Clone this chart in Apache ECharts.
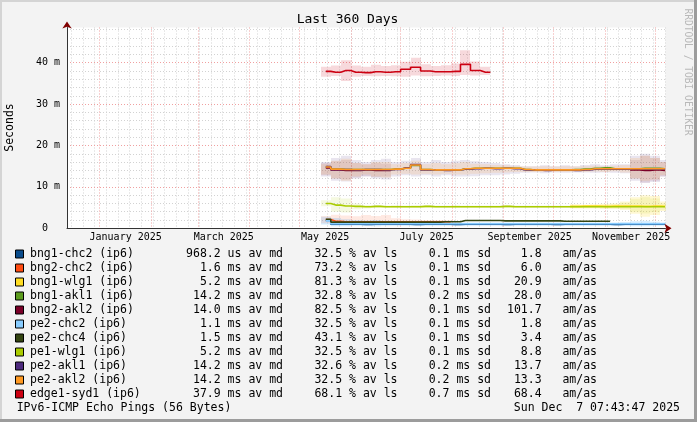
<!DOCTYPE html>
<html><head><meta charset="utf-8">
<script src="https://cdn.jsdelivr.net/npm/echarts@6/dist/echarts.min.js"></script>
<style>html,body{margin:0;padding:0;background:#f3f3f3}#c{width:697px;height:422px}</style>
</head><body><div id="c"></div>
<script>
// ---------- data ----------
const sampleDates = ['2025-05-17','2025-05-23','2025-05-29','2025-06-04','2025-06-10','2025-06-16','2025-06-22','2025-06-28','2025-07-04','2025-07-10','2025-07-16','2025-07-22','2025-07-28','2025-08-03','2025-08-09','2025-08-15','2025-08-21','2025-08-27','2025-09-02','2025-09-08','2025-09-14','2025-09-20','2025-09-26','2025-10-02','2025-10-08','2025-10-14','2025-10-20','2025-10-26','2025-11-01','2025-11-07','2025-11-13','2025-11-19','2025-11-25','2025-12-01','2025-12-07'];
const N = null;
// medians (ms)
const bng1_chc2 = [1.9,1.0,1.0,1.0,0.9,1.0,1.0,1.0,1.0,0.9,1.0,1.0,1.0,0.9,1.0,1.0,1.0,1.0,0.9,1.0,1.0,1.0,1.0,0.9,1.0,1.0,1.0,1.0,1.0,0.9,1.0,1.0,1.0,1.0,1.0];
const bng2_chc2 = [2.1,1.7,1.6,1.6,1.6,1.6,1.6,1.6,1.6,1.6,1.6,1.6,1.6,N,N,N,N,N,N,N,N,N,N,N,N,N,N,N,N,N,N,N,N,N,N];
const bng1_wlg1 = [N,N,N,N,N,N,N,N,N,N,N,N,N,N,N,N,N,N,N,N,N,N,N,N,N,5.3,5.4,5.4,5.3,5.4,5.4,5.4,5.3,5.4,5.3];
const bng1_akl1 = [14.8,14.3,14.2,14.2,14.2,14.2,14.2,14.3,14.5,15.2,14.2,14.1,14.1,14.1,14.4,14.5,14.5,14.5,14.5,14.5,14.2,14.1,14.1,14.1,14.1,14.2,14.3,14.5,14.6,14.4,14.4,14.4,14.5,14.5,14.4];
const bng2_akl2 = [14.6,14.1,14.0,14.0,14.1,14.0,14.0,N,N,N,N,N,N,N,N,N,N,N,N,N,N,N,N,N,N,N,N,N,N,N,N,14.1,14.0,14.1,14.0];
const pe2_chc2 = [1.8,1.1,1.1,1.1,1.1,1.1,1.1,1.1,1.1,1.1,1.1,1.1,1.1,1.1,1.1,1.1,1.1,1.1,1.1,1.1,1.1,1.1,1.1,1.1,1.1,1.1,1.1,1.1,1.1,1.1,1.1,1.1,1.1,1.1,1.1];
const pe2_chc4 = [2.2,1.5,1.5,1.5,1.5,1.5,1.5,1.5,1.5,1.5,1.5,1.5,1.6,1.6,1.9,1.9,1.9,1.9,1.8,1.8,1.8,1.8,1.8,1.8,1.7,1.7,1.7,1.7,1.7,N,N,N,N,N,N];
const pe1_wlg1 = [6.0,5.6,5.4,5.3,5.2,5.3,5.2,5.2,5.2,5.2,5.3,5.2,5.2,5.2,5.2,5.2,5.2,5.2,5.3,5.2,5.2,5.2,5.2,5.2,5.2,5.2,5.2,5.2,5.2,5.2,5.2,5.2,5.2,5.2,5.2];
const pe2_akl1 = [14.9,14.2,14.2,14.1,14.2,14.2,14.1,14.2,14.6,15.4,14.1,14.1,14.0,14.1,14.3,14.4,14.5,14.4,14.5,14.4,14.1,14.1,14.0,14.1,14.1,14.0,14.1,14.3,14.3,14.3,14.3,14.4,14.3,14.3,14.3];
const pe2_akl2 = [14.8,14.3,14.2,14.2,14.2,14.2,14.2,14.3,14.5,15.3,14.2,14.1,14.1,14.1,14.4,14.5,14.5,14.5,14.5,14.5,14.2,14.1,14.1,14.1,14.1,14.1,14.2,14.4,14.4,14.4,14.4,14.4,14.4,14.4,14.4];
const edge1_syd1 = [37.9,37.7,38.1,37.7,37.6,37.8,37.7,37.8,38.4,38.9,38.0,37.8,37.8,37.9,39.6,38.1,37.7,N,N,N,N,N,N,N,N,N,N,N,N,N,N,N,N,N,N];
// smoke (min / max of pings, ms)
const smoke_bng2_chc2_lo = [1.2,1.1,1.0,1.1,1.1,1.0,1.1,1.2,1.3,1.3,1.3,1.3,1.3,N,N,N,N,N,N,N,N,N,N,N,N,N,N,N,N,N,N,N,N,N,N];
const smoke_bng2_chc2_hi = [3.0,3.3,3.1,2.9,3.2,3.0,3.2,2.4,2.2,2.1,2.0,2.0,2.0,N,N,N,N,N,N,N,N,N,N,N,N,N,N,N,N,N,N,N,N,N,N];
const smoke_bng1_wlg1_lo = [N,N,N,N,N,N,N,N,N,N,N,N,N,N,N,N,N,N,N,N,N,N,N,N,N,4.8,4.8,4.8,4.7,4.7,4.5,3.5,2.8,3.2,4.2];
const smoke_bng1_wlg1_hi = [N,N,N,N,N,N,N,N,N,N,N,N,N,N,N,N,N,N,N,N,N,N,N,N,N,5.8,5.7,5.8,5.9,6.0,6.5,7.5,8.0,7.8,6.5];
const smoke_bng2_akl2_lo = [12.8,12.0,11.8,12.3,12.6,12.4,12.5,N,N,N,N,N,N,N,N,N,N,N,N,N,N,N,N,N,N,N,N,N,N,N,N,12.0,11.0,11.5,12.5];
const smoke_bng2_akl2_hi = [15.8,16.2,16.5,15.8,15.5,15.8,15.6,N,N,N,N,N,N,N,N,N,N,N,N,N,N,N,N,N,N,N,N,N,N,N,N,16.5,17.5,17.0,16.0];
const smoke_pe2_chc2_lo = [0.9,0.5,0.5,0.6,0.6,0.5,0.6,0.6,0.6,0.6,0.6,0.6,0.6,0.6,0.6,0.6,0.6,0.6,0.6,0.6,0.6,0.6,0.6,0.6,0.6,0.6,0.6,0.6,0.6,0.6,0.6,0.5,0.5,0.6,0.6];
const smoke_pe2_chc2_hi = [2.8,2.5,2.2,2.0,1.9,2.0,1.8,1.6,1.5,1.5,1.4,1.4,1.4,1.4,1.4,1.4,1.4,1.4,1.4,1.4,1.4,1.4,1.4,1.4,1.4,1.4,1.4,1.4,1.4,1.4,1.5,1.7,1.8,1.6,1.4];
const smoke_pe1_wlg1_lo = [5.3,4.0,3.8,4.6,4.8,4.9,4.9,4.9,4.9,4.9,4.9,4.9,4.9,4.9,4.9,4.9,4.9,4.9,4.9,4.9,4.9,4.9,4.9,4.9,4.9,4.9,4.9,4.9,4.8,4.8,4.6,4.0,3.6,3.9,4.5];
const smoke_pe1_wlg1_hi = [6.8,7.5,7.2,6.0,5.6,5.6,5.5,5.6,5.5,5.6,5.6,5.5,5.5,5.6,5.5,5.5,5.5,5.5,5.6,5.5,5.5,5.5,5.5,5.5,5.5,5.5,5.6,5.6,5.7,5.8,6.2,7.0,7.5,7.2,6.0];
const smoke_pe2_akl1_lo = [12.5,11.5,11.3,12.0,12.5,12.0,11.8,12.5,12.8,12.5,12.8,12.5,12.8,12.5,12.5,12.6,12.8,12.8,13.0,13.2,13.4,13.5,13.3,13.5,13.4,13.5,13.5,13.4,13.5,13.4,13.3,11.5,11.0,11.2,12.5];
const smoke_pe2_akl1_hi = [16.0,17.0,17.5,16.5,16.0,16.5,16.8,16.0,16.3,17.0,16.0,16.5,16.0,16.3,16.5,16.2,16.0,15.8,15.5,15.3,15.0,15.0,15.2,15.0,15.2,15.0,15.3,15.5,15.2,15.5,15.5,17.5,18.0,17.5,16.5];
const smoke_pe2_akl2_lo = [13.0,12.0,11.5,12.5,13.0,12.5,12.3,13.0,13.2,13.0,13.2,13.0,13.2,13.0,13.0,13.2,13.3,13.4,13.5,13.6,13.6,13.6,13.6,13.6,13.6,13.7,13.6,13.7,13.6,13.8,13.5,12.0,11.5,11.8,12.8];
const smoke_pe2_akl2_hi = [15.5,16.3,16.8,15.8,15.5,16.0,16.0,15.5,15.8,16.3,15.5,15.8,15.5,15.7,16.0,15.6,15.5,15.3,15.2,15.0,14.9,14.9,15.0,14.9,15.0,14.9,15.0,15.1,15.0,15.1,15.3,17.0,17.5,17.0,16.0];
const smoke_edge1_syd1_lo = [36.6,36.8,35.6,36.6,36.8,36.7,36.8,36.7,36.6,36.9,36.7,36.8,36.9,36.8,37.0,36.9,37.0,N,N,N,N,N,N,N,N,N,N,N,N,N,N,N,N,N,N];
const smoke_edge1_syd1_hi = [39.0,39.3,40.6,39.3,39.0,39.5,39.2,39.4,40.2,41.2,39.6,39.2,39.4,39.8,43.0,40.3,39.0,N,N,N,N,N,N,N,N,N,N,N,N,N,N,N,N,N,N];

// legend texts
const legendNames = ['bng1-chc2 (ip6)','bng2-chc2 (ip6)','bng1-wlg1 (ip6)','bng1-akl1 (ip6)','bng2-akl2 (ip6)','pe2-chc2 (ip6)','pe2-chc4 (ip6)','pe1-wlg1 (ip6)','pe2-akl1 (ip6)','pe2-akl2 (ip6)','edge1-syd1 (ip6)'];
const legendMedian = ['968.2 us','1.6 ms','5.2 ms','14.2 ms','14.0 ms','1.1 ms','1.5 ms','5.2 ms','14.2 ms','14.2 ms','37.9 ms'];
const legendLoss = ['32.5','73.2','81.3','32.8','82.5','32.5','43.1','32.5','32.6','32.5','68.1'];
const legendSd = ['0.1','0.1','0.1','0.2','0.1','0.1','0.1','0.1','0.2','0.2','0.7'];
const legendAmas = ['1.8','6.0','20.9','28.0','101.7','1.8','3.4','8.8','13.7','13.3','68.4'];

// axis tick labels
const xTickMonths = ['2025-01-01','2025-03-01','2025-05-01','2025-07-01','2025-09-01','2025-11-01'];
const xTickLabels = ['January 2025','March 2025','May 2025','July 2025','September 2025','November 2025'];
const monthLines = ['2025-01-01','2025-02-01','2025-03-01','2025-04-01','2025-05-01','2025-06-01','2025-07-01','2025-08-01','2025-09-01','2025-10-01','2025-11-01','2025-12-01'];
const yTickLabels = {0:'0  ',10:'10 m',20:'20 m',30:'30 m',40:'40 m'};

const titleText = 'Last 360 Days';
const yTitle = 'Seconds';
const footLeft = 'IPv6-ICMP Echo Pings (56 Bytes)';
const footRight = 'Sun Dec  7 07:43:47 2025';
const watermark = 'RRDTOOL / TOBI OETIKER';

// ---------- styles ----------
const colors = ['#0a4c8c','#ff4c12','#ffdd22','#5c9c1e','#7a0028','#88ccff','#334411','#aacc00','#4d2a7e','#ff9922','#cc0011'];
const medians = [bng1_chc2,bng2_chc2,bng1_wlg1,bng1_akl1,bng2_akl2,pe2_chc2,pe2_chc4,pe1_wlg1,pe2_akl1,pe2_akl2,edge1_syd1];
const smokes = [
  [smoke_pe2_chc2_lo, smoke_pe2_chc2_hi, 5, 0.35],
  [smoke_bng2_chc2_lo, smoke_bng2_chc2_hi, 1, 0.12],
  [smoke_pe1_wlg1_lo, smoke_pe1_wlg1_hi, 7, 0.12],
  [smoke_bng1_wlg1_lo, smoke_bng1_wlg1_hi, 2, 0.2],
  [smoke_bng2_akl2_lo, smoke_bng2_akl2_hi, 4, 0.1],
  [smoke_pe2_akl1_lo, smoke_pe2_akl1_hi, 8, 0.12],
  [smoke_pe2_akl2_lo, smoke_pe2_akl2_hi, 9, 0.14],
  [smoke_edge1_syd1_lo, smoke_edge1_syd1_hi, 10, 0.15]
];

const MONO = "'DejaVu Sans Mono', monospace";
const DAY = 86400000;
const ts = s => new Date(s + 'T00:00:00Z').getTime();
const tStart = Date.UTC(2024, 11, 12, 7, 43, 47);
const tEnd = Date.UTC(2025, 11, 7, 7, 43, 47);
const sampleTimes = sampleDates.map(ts);
const halfStep = 3 * DAY;
const labelTimes = xTickMonths.map(s => ts(s) + 15.6 * DAY);
const weekLines = [];
for (let t = ts('2024-12-15'); t <= tEnd; t += 7 * DAY) weekLines.push(t);

const series = [];
smokes.forEach(([lo, hi, ci, op]) => {
  series.push({
    type: 'custom', silent: true, clip: true, z: 1,
    data: sampleTimes.map((t, i) => [t, lo[i] == null ? '-' : lo[i], hi[i] == null ? '-' : hi[i]]),
    renderItem(params, api) {
      const l = api.value(1), h = api.value(2);
      if (l == null || h == null || isNaN(l) || isNaN(h)) return null;
      const t = api.value(0);
      const p1 = api.coord([t - halfStep, h]);
      const p2 = api.coord([t + halfStep, l]);
      return { type: 'rect', shape: { x: Math.round(p1[0]), y: p1[1], width: Math.round(p2[0]) - Math.round(p1[0]), height: p2[1] - p1[1] },
        style: { fill: colors[ci], opacity: op } };
    }
  });
});
medians.forEach((vals, k) => {
  series.push({
    type: 'line', name: legendNames[k], step: 'middle', symbol: 'none', showSymbol: false, silent: true,
    connectNulls: false, z: 3,
    data: sampleTimes.map((t, i) => [t, vals[i]]),
    lineStyle: { color: colors[k], width: 1.6 }, itemStyle: { color: colors[k] }
  });
});

// graphic: texts and frame
const g = [];
g.push({ type: 'rect', shape: { x: 0, y: 0, width: 697, height: 2 }, style: { fill: '#d4d4d4' }, silent: true });
g.push({ type: 'rect', shape: { x: 0, y: 0, width: 2, height: 422 }, style: { fill: '#d4d4d4' }, silent: true });
g.push({ type: 'rect', shape: { x: 694, y: 0, width: 3, height: 422 }, style: { fill: '#9c9c9c' }, silent: true });
g.push({ type: 'rect', shape: { x: 0, y: 419, width: 697, height: 3 }, style: { fill: '#9c9c9c' }, silent: true });
function txt(text, x, y, align, size, extra) {
  return Object.assign({ type: 'text', x, y, silent: true,
    style: { text, fill: '#000', fontFamily: MONO, fontSize: size, textAlign: align, align: align,
      textVerticalAlign: 'middle', verticalAlign: 'middle' } }, extra || {});
}
g.push(txt(titleText, 347.5, 19.5, 'center', 13));
g.push(txt(yTitle, 10.5, 127.5, 'center', 11.5, { rotation: Math.PI / 2 }));
const wm = txt(watermark, 687, 72, 'center', 9.6, { rotation: -Math.PI / 2 });
wm.style.fill = '#b8b8b8';
g.push(wm);
const LF = 11.5;
legendNames.forEach((nm, i) => {
  const y = 254.5 + i * 14;
  g.push({ type: 'rect', silent: true, shape: { x: 15.5, y: y - 4.5, width: 8, height: 8 },
    style: { fill: colors[i], stroke: '#000', lineWidth: 1 } });
  g.push(txt(nm, 30, y, 'left', LF));
  g.push(txt(legendMedian[i] + ' av md', 283, y, 'right', LF));
  g.push(txt(legendLoss[i] + ' % av ls', 397.5, y, 'right', LF));
  g.push(txt(legendSd[i] + ' ms sd', 491, y, 'right', LF));
  g.push(txt(legendAmas[i] + '   am/as', 597, y, 'right', LF));
});
g.push(txt(footLeft, 16.7, 408, 'left', LF));
g.push(txt(footRight, 680, 408, 'right', LF));

const chart = echarts.init(document.getElementById('c'), null, { renderer: 'canvas' });
chart.setOption({
  animation: false,
  backgroundColor: '#f3f3f3',
  grid: { left: 67, right: 31.5, top: 27.5, bottom: 193.7, show: true, backgroundColor: '#ffffff', borderWidth: 0 },
  xAxis: [
    { type: 'value', min: tStart, max: tEnd, z: 1, position: 'bottom',
      axisLine: { show: true, onZero: false, lineStyle: { color: '#333', width: 1 } },
      axisTick: { show: false, customValues: monthLines.map(ts) },
      axisLabel: { show: true, customValues: labelTimes, margin: 4, fontFamily: MONO, fontSize: 10, color: '#000',
        formatter: v => { let best = 0, bd = Infinity; labelTimes.forEach((t, i) => { const d = Math.abs(t - v); if (d < bd) { bd = d; best = i; } }); return xTickLabels[best]; } },
      splitLine: { show: true, lineStyle: { color: '#f0a0a0', width: 1, type: [1, 2] } } },
    { type: 'value', min: tStart, max: tEnd, z: 0, position: 'bottom',
      axisLine: { show: false }, axisTick: { show: false, customValues: weekLines }, axisLabel: { show: false },
      splitLine: { show: true, lineStyle: { color: '#d2d2d2', width: 1, type: [1, 2] } } },
    { type: 'value', min: tStart, max: tEnd, z: 5, position: 'bottom',
      axisLine: { show: true, onZero: false, symbol: ['none', 'arrow'], symbolSize: [7, 7], symbolOffset: [0, 6], lineStyle: { color: '#800000', width: 0 } },
      axisTick: { show: false }, axisLabel: { show: false }, splitLine: { show: false } }
  ],
  yAxis: [
    { type: 'value', min: 0, max: 48.5, interval: 10, z: 1,
      axisLine: { show: true, onZero: false, lineStyle: { color: '#333', width: 1 } },
      axisTick: { show: false },
      axisLabel: { margin: 7, fontFamily: MONO, fontSize: 10, color: '#000', showMaxLabel: false,
        formatter: v => (yTickLabels[v] !== undefined ? yTickLabels[v] : '') },
      splitLine: { show: true, showMaxLine: false, lineStyle: { color: '#f0a0a0', width: 1, type: [1, 2] } },
      minorTick: { show: false, splitNumber: 5 },
      minorSplitLine: { show: true, lineStyle: { color: '#d2d2d2', width: 1, type: [1, 2] } } },
    { type: 'value', min: 0, max: 48.5, z: 5, position: 'left',
      axisLine: { show: true, onZero: false, symbol: ['none', 'arrow'], symbolSize: [7, 7], symbolOffset: [0, 6], lineStyle: { color: '#800000', width: 0 } },
      axisTick: { show: false }, axisLabel: { show: false }, splitLine: { show: false } }
  ],
  series,
  graphic: { elements: g }
});
</script></body></html>
